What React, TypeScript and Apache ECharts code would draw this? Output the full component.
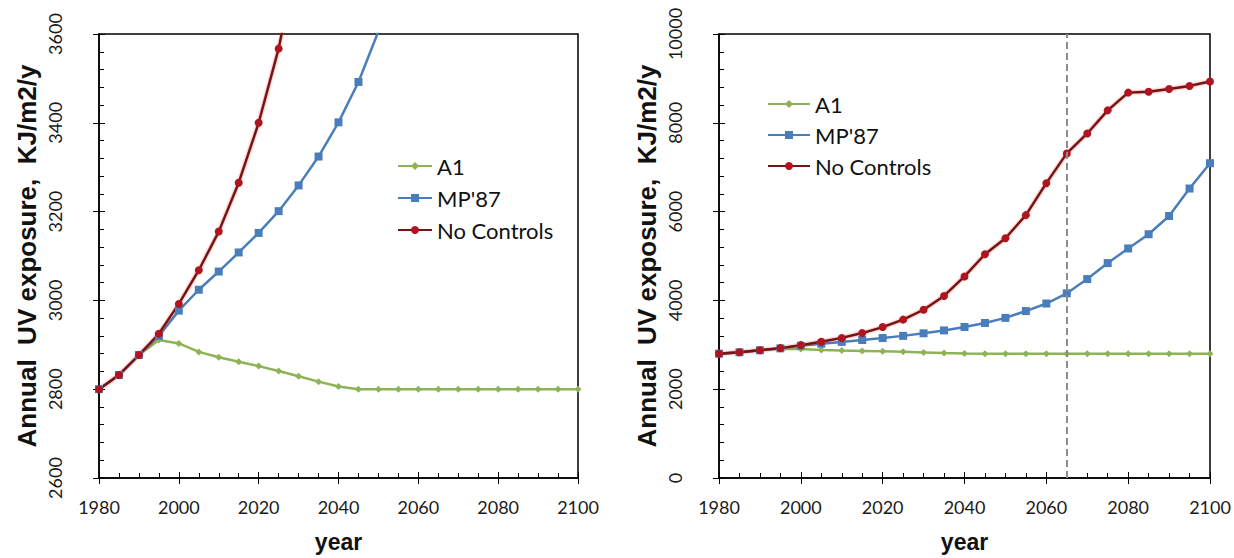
import React, { useEffect, useRef } from "react";
import * as echarts from "echarts";

// Years sampled every 5 years
const years = [
  1980, 1985, 1990, 1995, 2000, 2005, 2010, 2015, 2020, 2025, 2030, 2035, 2040,
  2045, 2050, 2055, 2060, 2065, 2070, 2075, 2080, 2085, 2090, 2095, 2100,
];

// Annual UV exposure, KJ/m2/y
const a1 = [
  2800, 2832, 2877, 2911, 2903, 2884, 2872, 2862, 2852, 2841, 2829, 2817, 2806,
  2800, 2800, 2800, 2800, 2800, 2800, 2800, 2800, 2800, 2800, 2800, 2800,
];
const mp87 = [
  2800, 2832, 2877, 2920, 2977, 3024, 3065, 3108, 3152, 3201, 3259, 3324, 3401,
  3492, 3606, 3760, 3930, 4160, 4480, 4840, 5170, 5490, 5900, 6520, 7090,
];
const noControls = [
  2800, 2832, 2877, 2925, 2992, 3068, 3155, 3265, 3400, 3567, 3790, 4100, 4540,
  5040, 5400, 5920, 6640, 7310, 7760, 8280, 8680, 8700, 8760, 8830, 8930,
];

const seriesNames = ["A1", "MP'87", "No Controls"];
const markerYear = [2065];

const FONT = "Lato";
const GREEN = "#8DB356";
const BLUE = "#4A7EBB";
const RED = "#B0141E";

const pairs = (vals: number[]) => years.map((y, i) => [y, vals[i]]);

function buildSeries(gi: number, withMarker: boolean) {
  const axisIdx = gi * 2;
  const common = {
    type: "line" as const,
    xAxisIndex: axisIdx,
    yAxisIndex: axisIdx,
    clip: true,
  };
  const list: any[] = [
    {
      ...common,
      name: seriesNames[0],
      data: pairs(a1),
      symbol: "diamond",
      symbolSize: 7,
      itemStyle: { color: GREEN },
      lineStyle: { color: GREEN, width: 2.5 },
    },
    {
      ...common,
      name: seriesNames[1],
      data: pairs(mp87),
      symbol: "rect",
      symbolSize: 8,
      itemStyle: { color: BLUE },
      lineStyle: { color: BLUE, width: 2.5 },
    },
    {
      ...common,
      name: seriesNames[2],
      data: pairs(noControls),
      symbol: "circle",
      symbolSize: 8,
      itemStyle: { color: RED },
      lineStyle: {
        color: "#6E1616",
        width: 2.4,
        shadowColor: "rgba(235,40,40,0.7)",
        shadowBlur: 2,
      },
    },
  ];
  if (withMarker) {
    list[0].markLine = {
      silent: true,
      symbol: "none",
      label: { show: false },
      lineStyle: { color: "#8C8C8C", type: [7, 4], width: 2 },
      data: markerYear.map((x) => ({ xAxis: x })),
    };
  }
  return list;
}

const plain = (v: number) => String(v);

function axesFor(gi: number, yMin: number, yMax: number, yInterval: number) {
  const labelStyle = { fontFamily: FONT, fontSize: 18, color: "#1a1a1a", formatter: plain };
  const nameStyle = {
    fontFamily: "Liberation Sans",
    fontWeight: "bold" as const,
    fontSize: 26,
    color: "#111",
  };
  const x = [
    {
      type: "value",
      gridIndex: gi,
      position: "bottom",
      min: 1980,
      max: 2100,
      interval: 20,
      name: "year",
      nameLocation: "middle",
      nameGap: 52,
      nameTextStyle: { ...nameStyle, fontSize: 23 },
      axisLine: { show: true, lineStyle: { color: "#000", width: 1.5 } },
      axisTick: { show: true, inside: true, length: 6, lineStyle: { color: "#000" } },
      minorTick: { show: true, splitNumber: 4, length: 5, lineStyle: { color: "#000" } },
      splitLine: { show: false },
      axisLabel: { ...labelStyle, margin: 20 },
    },
    {
      type: "value",
      gridIndex: gi,
      position: "bottom",
      min: 1980,
      max: 2100,
      interval: 20,
      axisLine: { show: false },
      axisTick: { show: true, inside: false, length: 6, lineStyle: { color: "#000" } },
      axisLabel: { show: false },
      splitLine: { show: false },
    },
  ];
  const y = [
    {
      type: "value",
      gridIndex: gi,
      position: "left",
      min: yMin,
      max: yMax,
      interval: yInterval,
      name: "Annual  UV exposure,  KJ/m2/y",
      nameLocation: "middle",
      nameGap: 59,
      nameRotate: 90,
      nameTextStyle: nameStyle,
      axisLine: { show: true, lineStyle: { color: "#000", width: 1.5 } },
      axisTick: { show: true, inside: true, length: 6, lineStyle: { color: "#000" } },
      minorTick: { show: true, splitNumber: 5, length: 5, lineStyle: { color: "#000" } },
      splitLine: { show: false },
      axisLabel: {
        ...labelStyle,
        rotate: 90,
        margin: 35,
        lineHeight: 18,
        align: "center",
        verticalAlign: "bottom",
      },
    },
    {
      type: "value",
      gridIndex: gi,
      position: "left",
      min: yMin,
      max: yMax,
      interval: yInterval,
      axisLine: { show: false },
      axisTick: { show: true, inside: false, length: 6, lineStyle: { color: "#000" } },
      axisLabel: { show: false },
      splitLine: { show: false },
    },
  ];
  return { x, y };
}

export default function App() {
  const ref = useRef<HTMLDivElement>(null);

  useEffect(() => {
    if (!ref.current) return;
    const chart = echarts.init(ref.current, undefined, { renderer: "svg" });
    const left = axesFor(0, 2600, 3600, 200);
    const right = axesFor(1, 0, 10000, 2000);
    const legendText = { fontFamily: FONT, fontSize: 22, color: "#111", lineHeight: 24 };

    chart.setOption({
      animation: false,
      backgroundColor: "#fff",
      grid: [
        { left: 99, top: 34, width: 479, height: 449, show: true, borderColor: "#000", borderWidth: 1.5, backgroundColor: "transparent" },
        { left: 719, top: 34, width: 491, height: 449, show: true, borderColor: "#000", borderWidth: 1.5, backgroundColor: "transparent" },
      ],
      xAxis: [...left.x, ...right.x],
      yAxis: [...left.y, ...right.y],
      legend: [
        {
          orient: "vertical",
          left: 392,
          top: 149,
          itemWidth: 34,
          itemHeight: 10,
          itemGap: 8,
          textStyle: legendText,
          data: seriesNames,
        },
        {
          orient: "vertical",
          left: 762,
          top: 87,
          itemWidth: 42,
          itemHeight: 10,
          itemGap: 7,
          textStyle: legendText,
          data: seriesNames,
        },
      ],
      series: [...buildSeries(0, false), ...buildSeries(1, true)],
    });
    return () => chart.dispose();
  }, []);

  return (
    <div
      ref={ref}
      style={{ position: "fixed", left: 0, top: 0, width: 1234, height: 558, background: "#fff" }}
    />
  );
}
